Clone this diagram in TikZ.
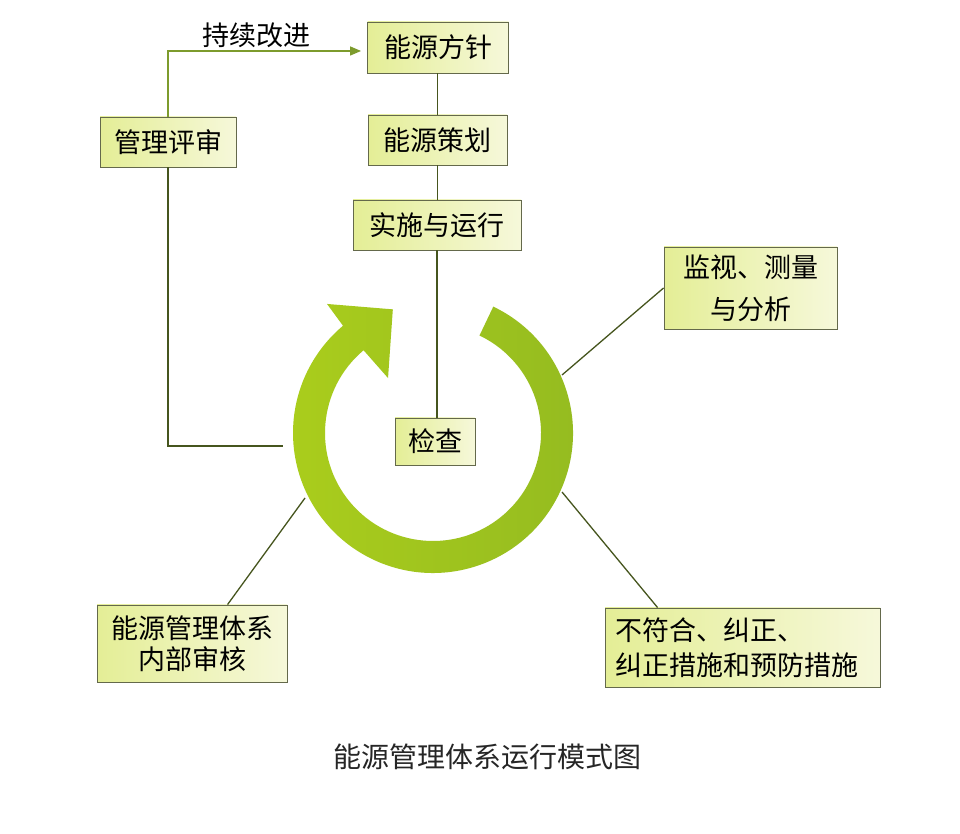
\documentclass[tikz,border=0pt]{standalone}
\usepackage{fontspec}
\newfontfamily\cjk{Noto Sans CJK SC}
\usetikzlibrary{arrows.meta,calc}
\definecolor{boxline}{RGB}{100,105,75}
\definecolor{boxL}{RGB}{228,238,150}
\definecolor{boxR}{RGB}{246,248,218}
\definecolor{conn}{RGB}{70,85,30}
\definecolor{connG}{RGB}{125,155,45}
\definecolor{ringL}{RGB}{170,205,28}
\definecolor{ringR}{RGB}{148,187,32}
\tikzset{
  stepbox/.style={draw=boxline, line width=0.9pt, left color=boxL, right color=boxR,
    inner sep=0pt, font=\cjk\fontsize{27}{34}\selectfont, align=center},
  conline/.style={draw=conn, line width=1.3pt},
  capt/.style={font=\cjk\fontsize{28}{34}\selectfont, text=black!85}
}
\begin{document}
\begin{tikzpicture}[x=1pt,y=1pt]
\useasboundingbox (0,0) rectangle (960,834);
\fill[white] (0,0) rectangle (960,834);

% ring with arrow
\begin{scope}[shift={(433,401)}]
\shade[left color=ringL, right color=ringR]
  (64.5:140pt) arc[start angle=64.5, end angle=-230, radius=140pt]
  -- (129.4:167pt) -- (108:130pt) -- (129.3:71pt) -- (130:108pt)
  arc[start angle=-230, end angle=64.5, radius=108pt] -- cycle;
\end{scope}

% boxes
\node[stepbox, minimum width=141, minimum height=51] (policy) at (438,786.5) {能源方针};
\node[stepbox, minimum width=139, minimum height=50] (plan) at (437.5,694) {能源策划};
\node[stepbox, minimum width=168, minimum height=50] (impl) at (437,609) {实施与运行};
\node[stepbox, minimum width=136, minimum height=50] (review) at (168,692) {管理评审};
\node[stepbox, minimum width=80, minimum height=47] (check) at (435,392.5) {检查};
\node[stepbox, minimum width=173, minimum height=82, font=\cjk\fontsize{27}{42}\selectfont] (monitor) at (750.5,546) {监视、测量\\与分析};
\node[stepbox, minimum width=275, minimum height=79, align=left, text width=255, font=\cjk\fontsize{27}{35}\selectfont] (nc) at (742.5,186.5) {不符合、纠正、\\纠正措施和预防措施};
\node[stepbox, minimum width=190, minimum height=77, font=\cjk\fontsize{27}{31}\selectfont] (audit) at (192,190.5) {能源管理体系\\内部审核};

\node[font=\cjk\fontsize{27}{34}\selectfont] (ci) at (256,799) {持续改进};
\node[capt] (cap) at (487,77) {能源管理体系运行模式图};

% ring anchor points
\coordinate (rL) at (283,388);
\coordinate (rA) at (562,459);
\coordinate (rB) at (562,342);
\coordinate (rC) at (305,336);
\coordinate (ncTop) at ($(nc.north west)+(53,0)$);
\coordinate (auTop) at ($(audit.north west)+(131,0)$);

% connectors
\draw[draw=connG, line width=1.3pt, -{Triangle[length=11pt,width=9pt]}, shorten >=6pt]
  (review.north) |- ([yshift=-3.5]policy.west);
\draw[conline] (review.south) |- (rL);
\draw[conline] (plan.north) -- (plan.north |- policy.south);
\draw[conline] (plan.south) -- (plan.south |- impl.north);
\draw[conline] (impl.south) -- (check.north -| impl.south);
\draw[conline] (monitor.west) -- (rA);
\draw[conline] (ncTop) -- (rB);
\draw[conline] (auTop) -- (rC);
\end{tikzpicture}
\end{document}
